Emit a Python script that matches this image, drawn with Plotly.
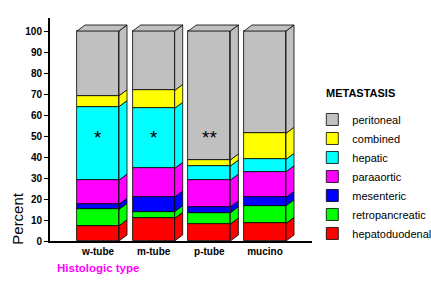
import plotly.graph_objects as go
import numpy as np

categories = ["w-tube", "m-tube", "p-tube", "mucino"]
series_names = ["hepatoduodenal", "retropancreatic", "mesenteric", "paraaortic",
                "hepatic", "combined", "peritoneal"]
hepatoduodenal = [7.3, 10.8, 8.1, 8.4]
retropancreatic = [7.8, 3.2, 5.4, 8.4]
mesenteric = [2.4, 7.0, 2.8, 4.0]
paraaortic = [11.5, 13.6, 12.7, 12.2]
hepatic = [35.0, 28.6, 6.7, 5.9]
combined = [5.2, 8.5, 2.9, 12.4]
peritoneal = [30.8, 28.3, 61.4, 48.7]
series_values = [hepatoduodenal, retropancreatic, mesenteric, paraaortic,
                 hepatic, combined, peritoneal]
colors = ["#FF0000", "#00FF00", "#0000FF", "#FF00FF", "#00FFFF", "#FFFF00", "#C0C0C0"]
star_labels = ["*", "*", "**", ""]
star_level = 51.6
yticks = list(range(0, 101, 10))

FONT = "Liberation Sans, Arial, sans-serif"
x = np.arange(len(categories))
bw = 0.755
dx = 0.144   # depth offset (x units)
dy = 2.86    # depth offset (y units)

fig = go.Figure()
bases = np.zeros(len(categories))
n = len(series_names)
for k, (name, vals, col) in enumerate(zip(series_names, series_values, colors)):
    vals = np.array(vals, dtype=float)
    fig.add_trace(go.Bar(
        x=x, y=vals, base=bases, width=bw, name=name, legendgroup=name,
        legendrank=100 + (n - k),
        marker=dict(color=col, line=dict(color="black", width=0.8)),
    ))
    # side faces
    px, py = [], []
    for i in range(len(categories)):
        xr = x[i] + bw / 2
        b = bases[i]
        t = bases[i] + vals[i]
        px += [xr, xr + dx, xr + dx, xr, xr, None]
        py += [b, b + dy, t + dy, t, b, None]
    fig.add_trace(go.Scatter(x=px, y=py, mode="lines", fill="toself", fillcolor=col,
                             line=dict(color="black", width=0.8), showlegend=False,
                             hoverinfo="skip"))
    bases = bases + vals

# top faces
px, py = [], []
for i in range(len(categories)):
    xl = x[i] - bw / 2
    xr = x[i] + bw / 2
    t = bases[i]
    px += [xl, xl + dx, xr + dx, xr, xl, None]
    py += [t, t + dy, t + dy, t, t, None]
fig.add_trace(go.Scatter(x=px, y=py, mode="lines", fill="toself", fillcolor=colors[-1],
                         line=dict(color="black", width=0.8), showlegend=False,
                         hoverinfo="skip"))

for i, s in enumerate(star_labels):
    if s:
        fig.add_annotation(x=x[i], y=star_level, text=s, showarrow=False,
                           font=dict(family=FONT, size=19, color="black"), yshift=-5)

fig.add_annotation(xref="paper", yref="paper", x=-0.118, y=0.1, text="Percent",
                   textangle=-90, showarrow=False, xanchor="center", yanchor="middle",
                   font=dict(family=FONT, size=15, color="black"))
fig.add_annotation(xref="paper", yref="paper", x=0.017, y=-0.083, text="<b>Histologic type</b>",
                   showarrow=False, xanchor="left", yanchor="top",
                   font=dict(family=FONT, size=11.5, color="#FF00FF"))
# legend heading
fig.add_annotation(xref="paper", yref="paper", x=1.012, y=0.663, text="<b>METASTASIS</b>",
                   showarrow=False, xanchor="left", yanchor="middle",
                   font=dict(family=FONT, size=11, color="black"))

fig.update_layout(
    width=431, height=281,
    margin=dict(l=50, r=110, t=18, b=40, autoexpand=False),
    paper_bgcolor="white", plot_bgcolor="white",
    barmode="overlay", bargap=0,
    showlegend=True,
    legend=dict(
        x=0.968, y=0.61, xanchor="left", yanchor="top",
        traceorder="grouped", tracegroupgap=0,
        font=dict(family=FONT, size=11, color="black"),
        itemwidth=30,
    ),
    xaxis=dict(
        range=[-0.862, 4.006], tickvals=list(x),
        ticktext=["<b>%s</b>" % c for c in categories],
        tickfont=dict(family=FONT, size=10, color="black"),
        showline=True, linecolor="black", linewidth=2, ticks="",
        showgrid=False, zeroline=False,
    ),
    yaxis=dict(
        range=[0, 106.2], tickvals=yticks,
        ticktext=["<b>%d</b>" % v for v in yticks],
        tickfont=dict(family=FONT, size=10, color="black"),
        showline=True, linecolor="black", linewidth=2,
        ticks="outside", ticklen=4, tickwidth=1, tickcolor="black",
        showgrid=False, zeroline=False,
    ),
)

fig.write_html("out.html")
